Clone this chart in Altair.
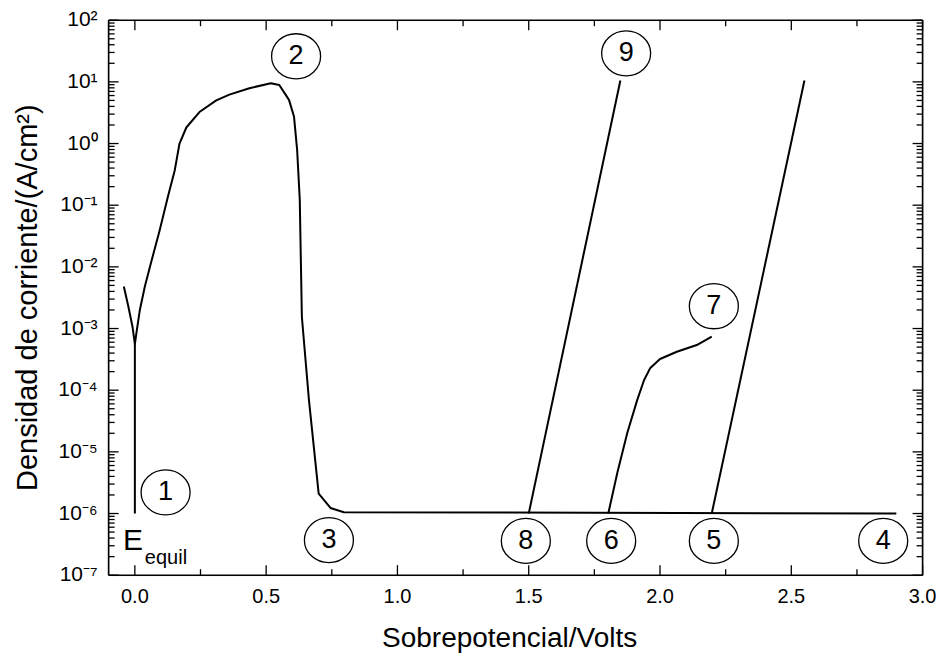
import altair as alt
import pandas as pd

# ---------------- data ----------------
# main polarisation curve (active peak, passive plateau)
main_x = [-0.042, -0.025, -0.009, 0.0, 0.006, 0.019, 0.038, 0.063, 0.095, 0.126,
          0.152, 0.17, 0.196, 0.246, 0.31, 0.36, 0.436, 0.518, 0.55, 0.587,
          0.606, 0.618, 0.628, 0.636, 0.663, 0.70, 0.745, 0.796, 2.9]
main_y = [4.8e-3, 2.3e-3, 1.07e-3, 5.6e-4, 8.5e-4, 2.0e-3, 4.8e-3, 1.23e-2, 4.0e-2, 0.138,
          0.37, 1.0, 1.82, 3.24, 5.0, 6.2, 7.9, 9.5, 8.9, 5.1,
          2.75, 0.79, 0.123, 1.55e-3, 6.9e-5, 2.1e-6, 1.23e-6, 1.05e-6, 1.0e-6]
# vertical line at the equilibrium potential
eq_x = [0.0, 0.0]
eq_y = [5.6e-4, 1.0e-6]
# straight branch 8 -> 9
l9_x = [1.5, 1.849]
l9_y = [1.0e-6, 10.5]
# straight branch 5 -> upper end
l5_x = [2.197, 2.55]
l5_y = [1.0e-6, 10.5]
# curved branch 6 -> 7
c7_x = [1.803, 1.837, 1.875, 1.913, 1.939, 1.963, 2.0, 2.064, 2.14, 2.197]
c7_y = [1.0e-6, 4.5e-6, 2.0e-5, 6.9e-5, 1.45e-4, 2.3e-4, 3.2e-4, 4.2e-4, 5.4e-4, 7.4e-4]

# circled point labels
lab_text = ["1", "2", "3", "4", "5", "6", "7", "8", "9"]
lab_x = [0.117, 0.614, 0.739, 2.85, 2.205, 1.814, 2.205, 1.489, 1.871]
lab_y = [2.2e-6, 26.0, 3.7e-7, 3.6e-7, 3.6e-7, 3.6e-7, 2.3e-3, 3.6e-7, 29.0]

# E_equil annotation
e_text = ["E"]
e_x = [-0.045]
e_y = [2.6e-7]
sub_text = ["equil"]
sub_x = [0.038]
sub_y = [1.5e-7]

# axis ticks and tick labels
x_major = [0.0, 0.5, 1.0, 1.5, 2.0, 2.5, 3.0]
x_labels = ["0.0", "0.5", "1.0", "1.5", "2.0", "2.5", "3.0"]
x_minor = [0.25, 0.75, 1.25, 1.75, 2.25, 2.75]
y_major = [1e-7, 1e-6, 1e-5, 1e-4, 1e-3, 1e-2, 1e-1, 1e0, 1e1, 1e2]
y_labels = ["10\u207b\u2077", "10\u207b\u2076", "10\u207b\u2075", "10\u207b\u2074",
            "10\u207b\u00b3", "10\u207b\u00b2", "10\u207b\u00b9", "10\u2070",
            "10\u00b9", "10\u00b2"]
y_minor = [k * m for m in y_major[:-1] for k in range(2, 10)]
x_title = ["Sobrepotencial/Volts"]
y_title = ["Densidad de corriente/(A/cm\u00b2)"]

W = 814
H = 555
FONT = "Liberation Sans"
MAJ = 10
MIN = 6

# ---------------- build tables ----------------
rows = []
for name, xs_, ys_ in [("main", main_x, main_y), ("equil", eq_x, eq_y),
                       ("l9", l9_x, l9_y), ("l5", l5_x, l5_y), ("c7", c7_x, c7_y)]:
    for i, (a, b) in enumerate(zip(xs_, ys_)):
        rows.append({"series": name, "i": i, "x": a, "y": b})
lines_df = pd.DataFrame(rows)
lab_df = pd.DataFrame({"t": lab_text, "x": lab_x, "y": lab_y})
e_df = pd.DataFrame({"t": e_text, "x": e_x, "y": e_y})
sub_df = pd.DataFrame({"t": sub_text, "x": sub_x, "y": sub_y})
xmaj_df = pd.DataFrame({"v": x_major})
xmin_df = pd.DataFrame({"v": x_minor})
ymaj_df = pd.DataFrame({"v": y_major})
ymin_df = pd.DataFrame({"v": y_minor})
xlab_df = pd.DataFrame({"v": x_major, "t": x_labels})
ylab_df = pd.DataFrame({"v": y_major, "t": y_labels})
xt_df = pd.DataFrame({"t": x_title})
yt_df = pd.DataFrame({"t": y_title})
frame_df = pd.DataFrame({"k": [0]})


def xs():
    return alt.Scale(domain=[-0.1, 3.0], nice=False, zero=False)


def ys():
    return alt.Scale(type="log", domain=[1e-7, 1e2], nice=False)


lines = alt.Chart(lines_df).mark_line(color="black", strokeWidth=2, strokeJoin="round").encode(
    x=alt.X("x:Q", scale=xs(), axis=None),
    y=alt.Y("y:Q", scale=ys(), axis=None),
    detail="series:N",
    order="i:Q",
)

ellipse = "M-1,0A1,0.92 0 1,1 1,0A1,0.92 0 1,1 -1,0Z"
circles = alt.Chart(lab_df).mark_point(shape=ellipse, filled=False, stroke="black",
                                       strokeWidth=1.3, size=2401, opacity=1).encode(
    x=alt.X("x:Q", scale=xs(), axis=None),
    y=alt.Y("y:Q", scale=ys(), axis=None),
)

digits = alt.Chart(lab_df).mark_text(fontSize=27, font=FONT, color="black",
                                     align="center", baseline="middle").encode(
    x=alt.X("x:Q", scale=xs(), axis=None),
    y=alt.Y("y:Q", scale=ys(), axis=None),
    text="t:N",
)

e_mark = alt.Chart(e_df).mark_text(fontSize=30, font=FONT, color="black",
                                   align="left", baseline="alphabetic").encode(
    x=alt.X("x:Q", scale=xs(), axis=None),
    y=alt.Y("y:Q", scale=ys(), axis=None),
    text="t:N",
)

sub_mark = alt.Chart(sub_df).mark_text(fontSize=20, font=FONT, color="black",
                                       align="left", baseline="alphabetic").encode(
    x=alt.X("x:Q", scale=xs(), axis=None),
    y=alt.Y("y:Q", scale=ys(), axis=None),
    text="t:N",
)

# tick labels and axis titles as text marks
xlab = alt.Chart(xlab_df).mark_text(fontSize=20, font=FONT, color="black",
                                    align="center", baseline="top").encode(
    x=alt.X("v:Q", scale=xs(), axis=None),
    y=alt.value(H + 12),
    text="t:N",
)
ylab = alt.Chart(ylab_df).mark_text(fontSize=21, font=FONT, color="black",
                                    align="right", baseline="middle").encode(
    y=alt.Y("v:Q", scale=ys(), axis=None),
    x=alt.value(-11),
    text="t:N",
)
xtitle = alt.Chart(xt_df).mark_text(fontSize=28, font=FONT, color="black",
                                    align="center", baseline="alphabetic").encode(
    x=alt.value(401), y=alt.value(H + 72), text="t:N")
ytitle = alt.Chart(yt_df).mark_text(fontSize=29, font=FONT, color="black", angle=270,
                                    align="center", baseline="middle").encode(
    x=alt.value(-81), y=alt.value(H / 2), text="t:N")


def xticks(df, length):
    base = alt.Chart(df).mark_rule(color="black", strokeWidth=1.3)
    bottom = base.encode(x=alt.X("v:Q", scale=xs(), axis=None),
                         y=alt.value(H), y2=alt.value(H - length))
    top = base.encode(x=alt.X("v:Q", scale=xs(), axis=None),
                      y=alt.value(0), y2=alt.value(length))
    return [bottom, top]


def yticks(df, length):
    base = alt.Chart(df).mark_rule(color="black", strokeWidth=1.3)
    left = base.encode(y=alt.Y("v:Q", scale=ys(), axis=None),
                       x=alt.value(0), x2=alt.value(length))
    right = base.encode(y=alt.Y("v:Q", scale=ys(), axis=None),
                        x=alt.value(W - length), x2=alt.value(W))
    return [left, right]


tick_layers = (xticks(xmaj_df, MAJ) + xticks(xmin_df, MIN)
               + yticks(ymaj_df, MAJ) + yticks(ymin_df, MIN))

fbase = alt.Chart(frame_df).mark_rule(color="black", strokeWidth=1.6)
frame_layers = [
    fbase.encode(x=alt.value(0), x2=alt.value(W), y=alt.value(0)),
    fbase.encode(x=alt.value(0), x2=alt.value(W), y=alt.value(H)),
    fbase.encode(y=alt.value(0), y2=alt.value(H), x=alt.value(0)),
    fbase.encode(y=alt.value(0), y2=alt.value(H), x=alt.value(W)),
]

chart = alt.layer(lines, circles, digits, e_mark, sub_mark, xlab, ylab, xtitle, ytitle,
                  *tick_layers, *frame_layers).properties(
    width=W, height=H,
    autosize=alt.AutoSizeParams(type="none"),
    padding={"left": 100.6, "top": 12.2, "right": 13.4, "bottom": 78},
    background="white",
).configure(font=FONT)

chart.save("out.html", embed_options={"renderer": "svg", "actions": False})
